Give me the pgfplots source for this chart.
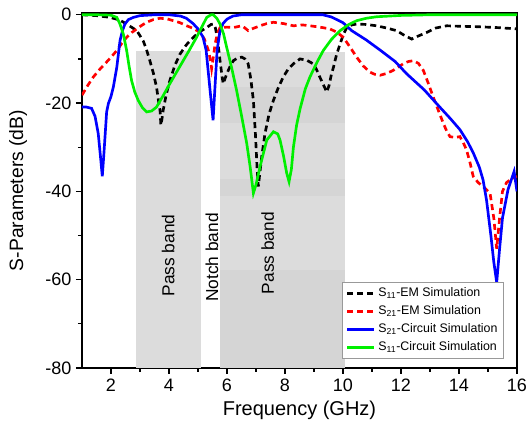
\documentclass[border=0pt]{standalone}
\usepackage{fontspec}
\setmainfont{Liberation Sans}
\usepackage{pgfplots}
\pgfplotsset{compat=1.18}
\definecolor{bandA}{RGB}{220,220,220}
\definecolor{bandB}{RGB}{213,213,213}
\definecolor{lgreen}{RGB}{0,240,0}
\begin{document}
\begin{tikzpicture}
\begin{axis}[
    scale only axis,
    width=326.25pt, height=266.25pt,
    xmin=1, xmax=16, ymin=-80, ymax=0.4,
    xtick={2,4,...,16}, ytick={-80,-60,...,0},
    minor tick num=1,
    tick pos=left, tick align=outside,
    major tick length=4.5pt, minor tick length=3pt,
    axis line style={line width=0.9pt},
    every tick/.style={line width=0.9pt, black},
    /pgf/number format/assume math mode=true,
    tick label style={font=\fontsize{13.5}{15}\selectfont},
    xlabel={Frequency (GHz)}, ylabel={S-Parameters (dB)},
    xlabel style={font=\fontsize{15}{17}\selectfont, at={(axis description cs:0.5,-0.118)}, anchor=center},
    ylabel style={font=\fontsize{14.5}{17}\selectfont, at={(axis description cs:-0.147,0.5)}, anchor=center},
    legend style={at={(rel axis cs:0.97,0.025)}, anchor=south east, draw=gray!80, line width=0.6pt,
        font=\fontsize{9.3}{11}\selectfont, fill=white, inner sep=2.5pt, row sep=1.2pt},
    legend cell align=left,
    legend image code/.code={\draw[#1] plot coordinates {(0cm,0cm) (0.36cm,0cm) (0.72cm,0cm)};},
]
% shaded bands
\addplot[fill=bandA, draw=none, forget plot] coordinates {(2.86,-80) (2.86,-8.1) (5.09,-8.1) (5.09,-80)} -- cycle;
\addplot[fill=bandA, draw=none, forget plot] coordinates {(5.76,-80) (5.76,-8.5) (10.07,-8.5) (10.07,-80)} -- cycle;
\addplot[fill=bandB, draw=none, forget plot] coordinates {(5.76,-24.5) (5.76,-16.4) (10.07,-16.4) (10.07,-24.5)} -- cycle;
\addplot[fill=bandB, draw=none, forget plot] coordinates {(5.76,-41) (5.76,-37.2) (10.07,-37.2) (10.07,-41)} -- cycle;
\addplot[fill=bandB, draw=none, forget plot] coordinates {(5.76,-80) (5.76,-57.7) (10.07,-57.7) (10.07,-80)} -- cycle;

% S11 EM
\addplot[black, line width=2pt, dash pattern=on 4.5pt off 3pt] coordinates {
(1,0) (1.5,-0.2) (1.97,-0.6) (2.3,-1.2) (2.54,-2.1) (2.89,-3.6) (3.11,-5.9) (3.22,-7.8) (3.34,-10.4)
(3.46,-13.2) (3.57,-16.4) (3.65,-20) (3.69,-21.6) (3.72,-25) (3.76,-23.5) (3.8,-21.6) (3.9,-18.2)
(4.03,-14.9) (4.2,-11.5) (4.38,-8.9) (4.6,-6.8) (4.84,-5.1) (5.07,-3.8) (5.3,-2.9) (5.45,-2.2)
(5.53,-2.1) (5.6,-3) (5.64,-4.3) (5.7,-7) (5.76,-10.4) (5.83,-14) (5.87,-15.6) (5.93,-14.5)
(5.99,-13.4) (6.1,-11.8) (6.22,-10.4) (6.36,-9.8) (6.51,-9.6) (6.62,-10) (6.73,-11.1) (6.82,-14.5)
(6.91,-19.4) (6.98,-27) (7.04,-35) (7.08,-38.9) (7.13,-36) (7.2,-32) (7.31,-26.9) (7.45,-22.5)
(7.6,-19.4) (7.77,-16.5) (7.94,-14.1) (8.12,-12.2) (8.29,-11.1) (8.52,-10) (8.75,-10.3) (8.97,-11.1)
(9.08,-12.3) (9.2,-14.1) (9.32,-15.8) (9.44,-17.5) (9.52,-16) (9.6,-13.5) (9.67,-11.9) (9.78,-9)
(9.9,-6.6) (10.01,-4.5) (10.13,-2.9) (10.3,-2.3) (10.47,-2.1) (10.8,-2.2) (11.16,-2.5) (11.5,-3)
(11.85,-3.6) (12.1,-4.6) (12.37,-5.5) (12.6,-4.8) (12.89,-4) (13.2,-3) (13.58,-2.5) (14,-2.6)
(14.61,-2.7) (15.3,-2.9) (16,-3.2)};
\addlegendentry{S\textsubscript{11}-EM Simulation}

% S21 EM
\addplot[red, line width=2pt, dash pattern=on 4.5pt off 3pt] coordinates {
(1,-18.2) (1.2,-16) (1.39,-14.1) (1.62,-12.3) (1.85,-10.7) (2.03,-9.4) (2.2,-8.1) (2.37,-6.5)
(2.54,-5.1) (2.72,-4) (2.89,-3.2) (3.06,-2.4) (3.23,-1.7) (3.46,-1.1) (3.69,-0.8) (3.92,-0.9)
(4.15,-1.35) (4.38,-1.8) (4.61,-2.5) (4.84,-3.1) (5.07,-4) (5.22,-5.5) (5.36,-8.1) (5.42,-10)
(5.47,-12.2) (5.53,-9.5) (5.59,-6.6) (5.67,-4.2) (5.76,-2.9) (6.0,-2.8) (6.22,-2.9) (6.51,-2.5)
(6.62,-3) (6.73,-3.6) (6.9,-3.1) (7.14,-2.5) (7.37,-2) (7.6,-1.7) (7.95,-2) (8.29,-2.5) (8.6,-2.3)
(8.86,-2.5) (9.2,-2.8) (9.55,-3.2) (9.8,-4) (10.01,-5.1) (10.24,-7.3) (10.47,-9.6) (10.7,-11.6)
(10.93,-13) (11.1,-13.5) (11.28,-13.7) (11.5,-13.3) (11.73,-12.6) (12.08,-11.1) (12.25,-10.6)
(12.42,-10.4) (12.6,-11) (12.77,-12.6) (12.94,-15.5) (13.11,-18.6) (13.29,-21.7) (13.46,-24.6)
(13.58,-26.4) (13.69,-27.6) (13.86,-27.8) (14.03,-27.6) (14.15,-29) (14.26,-30.6) (14.38,-33.5)
(14.49,-36.6) (14.66,-38) (14.83,-38.9) (15.07,-40.4) (15.2,-46) (15.3,-53) (15.4,-46) (15.5,-40)
(15.64,-38) (15.8,-37.2) (16,-36.6)};
\addlegendentry{S\textsubscript{21}-EM Simulation}

% S21 circuit
\addplot[blue, line width=2pt] coordinates {
(1,-20.9) (1.15,-20.9) (1.33,-21.2) (1.45,-23) (1.56,-26.9) (1.65,-33) (1.70,-36.6) (1.76,-31)
(1.85,-22) (1.91,-20.1) (2.0,-18.5) (2.08,-16.4) (2.2,-11.9) (2.31,-5.9) (2.4,-3.5) (2.48,-2.1)
(2.6,-1.1) (2.77,-0.6) (3.0,-0.2) (3.5,0) (4.0,0) (4.4,-0.3) (4.6,-0.8) (4.83,-2) (5.0,-3.2)
(5.17,-5) (5.28,-8) (5.34,-12) (5.43,-18) (5.52,-23.9) (5.58,-17) (5.66,-8) (5.75,-4) (5.86,-2)
(6.0,-1) (6.2,-0.3) (6.5,0) (9.3,0) (9.6,-0.5) (10,-1.8) (10.3,-3.6) (10.8,-5.7) (11.3,-8.1)
(11.8,-10.6) (12.2,-13.4) (12.8,-17) (13.35,-21) (13.7,-23.5) (14.03,-26) (14.3,-28.8) (14.5,-31.4)
(14.7,-34.5) (14.83,-37.4) (14.95,-42) (15.1,-50) (15.2,-56) (15.3,-60.6) (15.4,-53) (15.5,-46)
(15.69,-39.6) (15.9,-35.5) (16,-40)};
\addlegendentry{S\textsubscript{21}-Circuit Simulation}

% S11 circuit
\addplot[lgreen, line width=2pt] coordinates {
(1,0) (1.5,0) (2,-0.1) (2.2,-0.6) (2.31,-2.1) (2.43,-4.5) (2.54,-8.1) (2.62,-11.5) (2.71,-14.9)
(2.82,-17.5) (2.94,-19.4) (3.08,-21) (3.23,-22) (3.4,-21.8) (3.57,-20.9) (3.8,-18.3) (4.03,-15.6)
(4.26,-13) (4.49,-10.4) (4.72,-7.8) (4.95,-5.1) (5.13,-2.8) (5.3,-0.6) (5.45,0) (5.53,0)
(5.65,-0.8) (5.76,-2.1) (5.88,-4.3) (5.99,-7.4) (6.16,-12) (6.33,-17.1) (6.5,-22.8) (6.68,-29.1)
(6.8,-34.5) (6.91,-40.4) (7.0,-38.5) (7.14,-34.4) (7.37,-28.4) (7.6,-26.5) (7.75,-27) (7.83,-28.4)
(7.95,-32) (8.06,-35.9) (8.14,-37.8) (8.22,-35) (8.29,-30) (8.4,-25) (8.52,-21.3) (8.7,-16.8)
(8.86,-14.1) (9.1,-10.8) (9.32,-8.1) (9.6,-5.6) (9.9,-3.6) (10.2,-2.2) (10.47,-1.35) (10.8,-0.8)
(11.16,-0.45) (12,-0.15) (13,0) (16,0)};
\addlegendentry{S\textsubscript{11}-Circuit Simulation}

\node[rotate=90, font=\fontsize{13}{15}\selectfont] at (axis cs:3.97,-54.5) {Pass band};
\node[rotate=90, font=\fontsize{13}{15}\selectfont] at (axis cs:5.48,-55) {Notch band};
\node[rotate=90, font=\fontsize{13}{15}\selectfont] at (axis cs:7.4,-54) {Pass band};
\end{axis}
\pgfresetboundingbox
\path[use as bounding box] ([shift={(-61.5pt,-45pt)}]current axis.south west) rectangle ([shift={(11.25pt,9.75pt)}]current axis.north east);
\end{tikzpicture}
\end{document}
